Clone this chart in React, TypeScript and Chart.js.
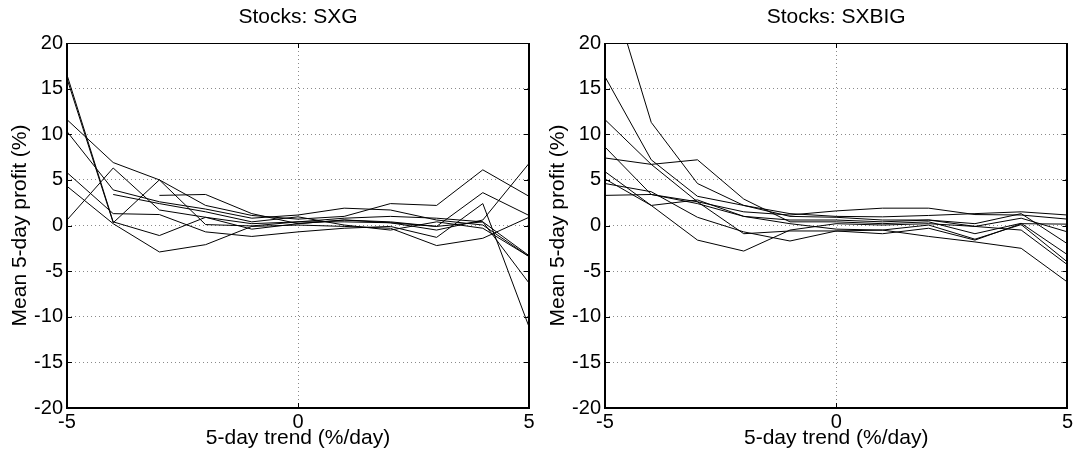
import React, { useEffect, useRef } from "react";
import { Chart, registerables } from "chart.js";

Chart.register(...registerables);

// ---- data ----
const TRENDS = [-5, -4, -3, -2, -1, 0, 1, 2, 3, 4, 5];
const X_TICKS = [-5, 0, 5];
const Y_TICKS = [-20, -15, -10, -5, 0, 5, 10, 15, 20];

const TITLE_LEFT = "Stocks: SXG";
const TITLE_RIGHT = "Stocks: SXBIG";
const X_LABEL = "5-day trend (%/day)";
const Y_LABEL = "Mean 5-day profit (%)";

const SXG_1 = [16.5, 0.4, -1.1, 0.9, -0.4, 0.2, 0.6, 0.4, -0.1, 3.6, 1.1];
const SXG_2 = [16.1, 0.3, 5.0, 0.1, -0.05, 0.4, 0.8, 1.0, 0.8, 0.4, -6.3];
const SXG_3 = [11.6, 6.9, 5.0, 2.2, 1.1, 0.7, 1.0, 2.4, 2.2, 6.1, 3.2];
const SXG_4 = [10.3, 3.9, 2.6, 1.8, 0.8, 1.15, 1.9, 1.7, 0.6, 0.05, -3.4];
const SXG_5 = [5.8, 1.3, 1.2, -0.7, -1.2, -0.7, -0.3, -0.1, -1.3, 2.4, -11.1];
const SXG_6 = [4.3, 0.2, -2.9, -2.1, -0.1, 0.05, -0.1, -0.3, -2.2, -1.4, 0.9];
const SXG_7 = [0.6, 6.3, 1.7, 0.9, 0.2, 0.4, 0.4, 0.3, -0.5, 0.6, 6.8];
const SXG_8 = [null, 3.4, 2.4, 1.5, 0.4, 0.95, 0.05, -0.5, 0.4, -0.3, -3.4];
const SXG_9 = [null, null, 3.3, 3.4, 1.3, 0.2, 0.6, 0.3, -0.1, 0.4, -3.3];

const SXBIG_1 = [28, 11.3, 4.6, 2.2, 1.0, 0.9, 0.6, 0.6, -0.1, -0.5, -4.3];
const SXBIG_2 = [16.3, 7.2, 3.2, 2.2, 1.3, 1.0, 0.95, 1.1, 1.3, 1.5, 1.15];
const SXBIG_3 = [11.6, 6.7, 2.6, 1.5, 1.15, 1.6, 1.9, 1.9, 1.2, 1.15, 0.7];
const SXBIG_4 = [8.6, 3.4, 2.4, 1.0, 0.6, 0.6, 0.4, 0.6, 0.2, 1.3, -2.0];
const SXBIG_5 = [7.4, 6.7, 7.2, 2.9, 0.4, 0.4, 0.2, 0.4, -0.9, 0.24, -3.2];
const SXBIG_6 = [5.9, 2.2, -1.6, -2.8, -0.5, 0.2, 0.05, 0.2, -0.1, 0.8, -0.7];
const SXBIG_7 = [5.1, 2.2, 2.8, 1.0, 0.2, -0.4, -0.5, 0.05, -1.5, 0.1, -4.0];
const SXBIG_8 = [4.6, 3.7, 0.9, -0.7, -1.7, -0.6, -0.9, -0.3, -1.6, 0.2, 0.15];
const SXBIG_9 = [3.3, 3.4, 2.6, -0.9, -0.6, -0.6, -0.5, -1.2, -1.8, -2.5, -6.2];

const SXG_SERIES = [SXG_1, SXG_2, SXG_3, SXG_4, SXG_5, SXG_6, SXG_7, SXG_8, SXG_9];
const SXBIG_SERIES = [SXBIG_1, SXBIG_2, SXBIG_3, SXBIG_4, SXBIG_5, SXBIG_6, SXBIG_7, SXBIG_8, SXBIG_9];

const FONT = '"Liberation Sans", Arial, Helvetica, sans-serif';

const framePlugin = {
  id: "frame",
  afterDatasetsDraw(chart: any, _args: any, opts: any) {
    const { ctx, chartArea: a, scales } = chart;
    ctx.save();
    ctx.strokeStyle = "#000";
    ctx.lineWidth = 1;
    const seg = (x1: number, y1: number, x2: number, y2: number) => {
      ctx.beginPath();
      ctx.moveTo(x1, y1);
      ctx.lineTo(x2, y2);
      ctx.stroke();
    };
    // inward tick marks
    scales.y.ticks.forEach((t: any) => {
      const y = Math.round(scales.y.getPixelForValue(t.value)) + 0.5;
      seg(a.left, y, a.left + 5, y);
      seg(a.right - 5, y, a.right, y);
    });
    scales.x.ticks.forEach((t: any) => {
      const x = Math.round(scales.x.getPixelForValue(t.value)) + 0.5;
      seg(x, a.top, x, a.top + 5);
      seg(x, a.bottom - 5, x, a.bottom);
    });
    // box
    const L = Math.round(a.left), R = Math.round(a.right), T = Math.round(a.top), B = Math.round(a.bottom);
    ctx.lineWidth = 1;
    seg(L, T + 0.5, R, T + 0.5);
    ctx.lineWidth = 2;
    seg(L, T, L, B + 1);
    seg(L - 1, B, R + 1, B);
    seg(R, T, R, B + 1);
    // title
    ctx.fillStyle = "#000";
    ctx.font = `21px ${FONT}`;
    ctx.textAlign = "center";
    ctx.textBaseline = "middle";
    ctx.fillText(opts.text, (a.left + a.right) / 2, 17);
    ctx.restore();
  },
};

type PanelProps = {
  title: string;
  series: (number | null)[][];
  left: number;
  width: number;
  axisWidth: number;
  padRight: number;
  yTitlePad: number;
};

function Panel({ title, series, left, width, axisWidth, padRight, yTitlePad }: PanelProps) {
  const ref = useRef<HTMLCanvasElement | null>(null);
  useEffect(() => {
    if (!ref.current) return;
    const chart = new Chart(ref.current, {
      type: "line",
      data: {
        datasets: series.map((s, i) => ({
          label: `s${i + 1}`,
          data: TRENDS.map((x, j) => ({ x, y: s[j] })),
          borderColor: "#000",
          borderWidth: 1,
          pointRadius: 0,
          tension: 0,
          fill: false,
          spanGaps: false,
        })),
      },
      options: {
        responsive: false,
        animation: false,
        devicePixelRatio: 1,
        layout: { padding: { top: 43, right: padRight, left: 0, bottom: 0 } },
        plugins: {
          legend: { display: false },
          tooltip: { enabled: false },
          title: { display: false },
          frame: { text: title },
        } as any,
        scales: {
          x: {
            type: "linear",
            min: -5,
            max: 5,
            afterBuildTicks: (scale: any) => {
              scale.ticks = X_TICKS.map((v) => ({ value: v }));
            },
            afterFit: (scale: any) => {
              scale.height = 46;
            },
            ticks: {
              color: "#000",
              font: { family: FONT, size: 20 },
              padding: 2,
              maxRotation: 0,
              autoSkip: false,
            },
            grid: { color: "#8a8a8a", drawTicks: false, lineWidth: 1 },
            border: { display: false, dash: [1, 3] },
            title: {
              display: true,
              text: X_LABEL,
              color: "#000",
              font: { family: FONT, size: 21 },
              padding: { top: 0, bottom: 3 },
            },
          },
          y: {
            type: "linear",
            min: -20,
            max: 20,
            afterBuildTicks: (scale: any) => {
              scale.ticks = Y_TICKS.map((v) => ({ value: v }));
            },
            afterFit: (scale: any) => {
              scale.width = axisWidth;
            },
            ticks: {
              color: "#000",
              font: { family: FONT, size: 20 },
              padding: 4,
              autoSkip: false,
            },
            grid: { color: "#8a8a8a", drawTicks: false, lineWidth: 1 },
            border: { display: false, dash: [1, 3] },
            title: {
              display: true,
              text: Y_LABEL,
              color: "#000",
              font: { family: FONT, size: 21 },
              padding: { top: yTitlePad, bottom: 0 },
            },
          },
        },
      },
      plugins: [framePlugin],
    } as any);
    return () => chart.destroy();
  }, []);
  return (
    <canvas
      ref={ref}
      width={width}
      height={454}
      style={{ position: "absolute", left, top: 0, width, height: 454 }}
    />
  );
}

export default function App() {
  return (
    <div
      style={{
        position: "absolute",
        left: 0,
        top: 0,
        width: 1075,
        height: 454,
        background: "#fff",
        overflow: "hidden",
      }}
    >
      <Panel title={TITLE_LEFT} series={SXG_SERIES} left={0} width={540} axisWidth={67} padRight={11} yTitlePad={8} />
      <Panel title={TITLE_RIGHT} series={SXBIG_SERIES} left={537} width={538} axisWidth={68} padRight={7} yTitlePad={9} />
    </div>
  );
}
